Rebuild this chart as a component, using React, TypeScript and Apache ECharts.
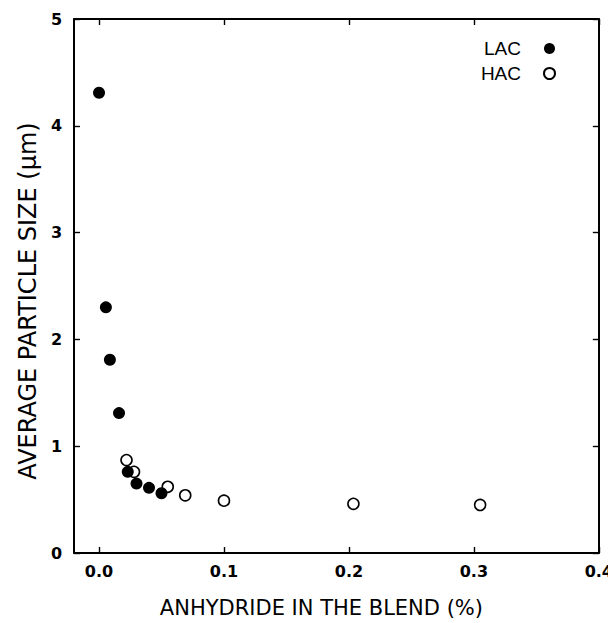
import React, { useEffect, useRef } from "react";
import * as echarts from "echarts";

const lacX = [0.0, 0.0055, 0.0087, 0.016, 0.023, 0.03, 0.04, 0.05];
const lacY = [4.31, 2.3, 1.81, 1.31, 0.76, 0.65, 0.61, 0.56];
const hacX = [0.022, 0.028, 0.055, 0.069, 0.1, 0.2036, 0.305];
const hacY = [0.87, 0.76, 0.62, 0.54, 0.49, 0.46, 0.45];
const xTicks = [0, 0.1, 0.2, 0.3, 0.4];

export default function App() {
  const ref = useRef<HTMLDivElement>(null);
  useEffect(() => {
    if (!ref.current) return;
    const chart = echarts.init(ref.current, null, { renderer: "svg" });
    const labelFont = { fontFamily: "DejaVu Sans", fontWeight: "bold" as const, fontSize: 16, color: "#000" };
    const titleBase = { fontFamily: "DejaVu Sans", fontWeight: "normal" as const, color: "#000" };
    const lineStyle = { color: "#000", width: 2 };
    const tick = { show: true, inside: true, length: 6, lineStyle: { color: "#000", width: 1.4 } };
    chart.setOption({
      animation: false,
      backgroundColor: "#fff",
      grid: { left: 64, right: 14, top: 11, bottom: 67 },
      legend: {
        orient: "vertical",
        right: 55,
        top: 26,
        align: "right",
        itemGap: 6,
        itemWidth: 11,
        itemHeight: 11,
        textStyle: { fontFamily: "Liberation Sans", fontSize: 19, color: "#000", padding: [0, 18, 0, 0] },
        data: ["LAC", "HAC"],
      },
      xAxis: [
        {
          type: "value",
          min: -0.02,
          max: 0.4,
          position: "bottom",
          name: "ANHYDRIDE IN THE BLEND (%)",
          nameLocation: "middle",
          nameGap: 44,
          nameTextStyle: { ...titleBase, fontSize: 21, padding: [0, 30, 0, 0] },
          axisLine: { show: true, onZero: false, lineStyle },
          axisTick: { ...tick, customValues: xTicks },
          axisLabel: { ...labelFont, margin: 10, customValues: xTicks, formatter: (v: number) => v.toFixed(1) },
          splitLine: { show: false },
        },
        {
          type: "value",
          min: -0.02,
          max: 0.4,
          position: "top",
          axisLine: { show: true, onZero: false, lineStyle },
          axisTick: { ...tick, customValues: xTicks },
          axisLabel: { show: false },
          splitLine: { show: false },
        },
      ],
      yAxis: [
        {
          type: "value",
          min: 0,
          max: 5,
          interval: 1,
          position: "left",
          name: "AVERAGE PARTICLE SIZE (\u03bcm)",
          nameLocation: "middle",
          nameGap: 24,
          nameTextStyle: { ...titleBase, fontSize: 24, padding: [0, 30, 0, 0] },
          axisLine: { show: true, onZero: false, lineStyle },
          axisTick: tick,
          axisLabel: { ...labelFont, margin: 12, formatter: (v: number) => String(v) },
          splitLine: { show: false },
        },
        {
          type: "value",
          min: 0,
          max: 5,
          interval: 1,
          position: "right",
          axisLine: { show: true, onZero: false, lineStyle },
          axisTick: tick,
          axisLabel: { show: false },
          splitLine: { show: false },
        },
      ],
      series: [
        {
          name: "LAC",
          type: "scatter",
          symbol: "circle",
          symbolSize: 12,
          itemStyle: { color: "#000", opacity: 1 },
          data: lacX.map((x, i) => [x, lacY[i]]),
          z: 3,
        },
        {
          name: "HAC",
          type: "scatter",
          symbol: "circle",
          symbolSize: 11,
          itemStyle: { color: "#fff", borderColor: "#000", borderWidth: 1.6, opacity: 1 },
          data: hacX.map((x, i) => [x, hacY[i]]),
          z: 2,
        },
      ],
    });
    return () => chart.dispose();
  }, []);
  return <div ref={ref} style={{ width: 608, height: 615 }} />;
}
